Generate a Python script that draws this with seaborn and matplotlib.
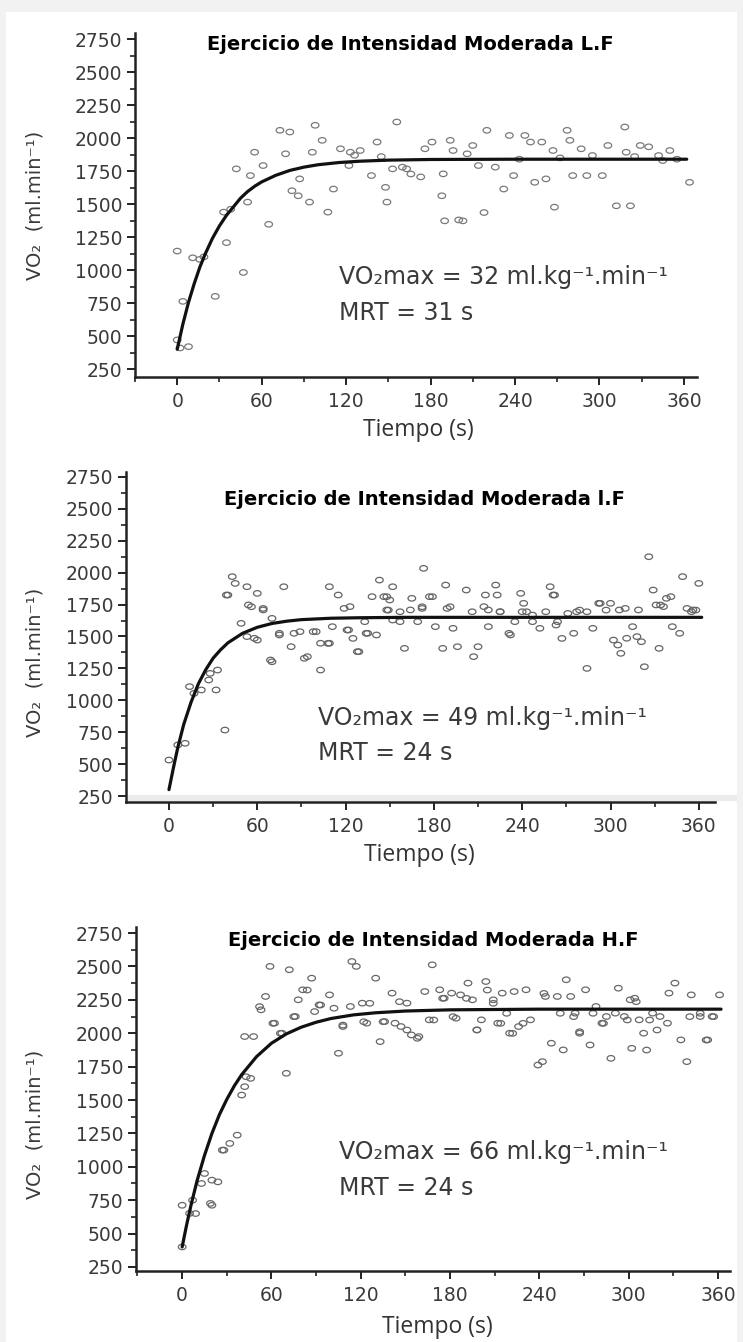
import numpy as np
import pandas as pd
import matplotlib
matplotlib.use("Agg")
import matplotlib.pyplot as plt
import seaborn as sns
from matplotlib.path import Path
from matplotlib.patches import Rectangle
from matplotlib.ticker import MultipleLocator

# ---------------- data ----------------
XTICKS = [0, 60, 120, 180, 240, 300, 360]
YTICKS = [250, 500, 750, 1000, 1250, 1500, 1750, 2000, 2250, 2500, 2750]

TITLES = ["Ejercicio de Intensidad Moderada L.F",
          "Ejercicio de Intensidad Moderada l.F",
          "Ejercicio de Intensidad Moderada H.F"]
ANNOT_VO2 = ["VO\u2082max = 32 ml.kg\u207b\u00b9.min\u207b\u00b9",
             "VO\u2082max = 49 ml.kg\u207b\u00b9.min\u207b\u00b9",
             "VO\u2082max = 66 ml.kg\u207b\u00b9.min\u207b\u00b9"]
ANNOT_MRT = ["MRT = 31 s", "MRT = 24 s", "MRT = 24 s"]
XLABEL = "Tiempo (s)"
YLABEL = "VO\u2082  (ml.min\u207b\u00b9)"

# Panel 1 scatter
t1 = [0, 11, 16, 19, 27, 4, 0, 8, 2, 33, 35, 38, 47, 50, 42, 52, 61, 55, 65, 73,
      80, 77, 81.5, 87, 86, 94, 96, 98, 103, 107, 111, 116, 123, 130, 122, 126, 138,
      142, 148, 149, 156, 153, 145, 160, 163, 166, 173, 176, 181, 189, 188, 190, 194,
      196, 200, 203, 206, 210, 214, 218, 220, 226, 232, 236, 239, 243, 247, 251, 254,
      259, 262, 267, 268, 272, 277, 279, 281, 287, 291, 295, 302, 306, 312, 318, 319,
      322, 325, 329, 335, 342, 345, 350, 355, 364]
v1 = [1144, 1093, 1081, 1100, 801, 763, 471, 420, 410, 1439, 1208, 1461, 982, 1515,
      1767, 1716, 1792, 1893, 1347, 2059, 2046, 1881, 1601, 1691, 1563, 1515, 1893,
      2097, 1983, 1439, 1614, 1919, 1893, 1906, 1792, 1870, 1716, 1970, 1627, 1515,
      2122, 1767, 1860, 1780, 1767, 1728, 1706, 1919, 1970, 1729, 1563, 1373, 1983,
      1906, 1380, 1373, 1881, 1944, 1792, 1436, 2059, 1780, 1614, 2020, 1716, 1840,
      2020, 1970, 1665, 1970, 1691, 1906, 1477, 1850, 2059, 1983, 1716, 1919, 1716,
      1868, 1716, 1944, 1487, 2084, 1893, 1487, 1860, 1944, 1934, 1868, 1830, 1906,
      1840, 1665]
ct1 = [0, 4, 8, 12, 16, 20, 25, 30, 35, 40, 45, 50, 55, 60, 70, 80, 90, 100, 115,
       130, 150, 180, 240, 300, 362]
cv1 = [400, 590, 755, 895, 1020, 1125, 1240, 1335, 1415, 1480, 1545, 1595, 1635,
       1668, 1718, 1755, 1780, 1798, 1815, 1825, 1833, 1838, 1840, 1840, 1840]

# Panel 2 scatter
t2 = [0, 6, 11, 14, 17, 22, 27, 32, 28, 33, 38, 40, 43, 45, 53, 60, 54, 64, 49, 53,
      60, 70, 70, 75, 78, 83, 85, 92, 98, 103, 108, 109, 111, 115, 119, 123, 122, 125,
      128, 133, 135, 138, 143, 148, 149, 152, 157, 160, 165, 169, 173, 172, 177, 181,
      186, 189, 188, 193, 196, 202, 207, 210, 214, 215, 222, 223, 225, 217, 231, 235,
      239, 241, 243, 247, 252, 256, 259, 262, 264, 267, 271, 275, 279, 284, 288, 292,
      297, 302, 305, 307, 310, 315, 318, 321, 323, 326, 329, 333, 331, 336, 341, 342,
      347, 349, 352, 355, 360, 358,
      157, 164, 172, 179, 191, 206, 217, 225, 232, 240, 247, 261, 263, 277, 284, 293,
      300, 306, 311, 319, 334, 338, 356,
      39, 56, 64, 58, 75, 89, 100, 103, 109, 69, 94, 121, 129, 134, 141, 146, 150,
      148, 152]
v2 = [532, 650, 663, 1107, 1054, 1081, 1159, 1081, 1211, 1237, 767, 1825, 1969, 1916,
      1890, 1838, 1747, 1720, 1603, 1499, 1472, 1642, 1302, 1525, 1890, 1420, 1525,
      1329, 1538, 1237, 1446, 1890, 1577, 1825, 1720, 1734, 1551, 1485, 1381, 1616,
      1525, 1812, 1942, 1812, 1707, 1890, 1616, 1407, 1799, 1616, 2034, 1720, 1812,
      1577, 1407, 1720, 1903, 1564, 1420, 1864, 1342, 1420, 1734, 1825, 1903, 1825,
      1694, 1577, 1525, 1616, 1838, 1760, 1694, 1616, 1564, 1694, 1890, 1825, 1616,
      1485, 1681, 1525, 1707, 1250, 1564, 1760, 1707, 1472, 1433, 1368, 1720, 1577,
      1499, 1459, 1263, 2125, 1864, 1407, 1747, 1734, 1812, 1577, 1525, 1969, 1720,
      1694, 1916, 1707,
      1694, 1708, 1733, 1812, 1733, 1694, 1708, 1694, 1512, 1694, 1668, 1825, 1590,
      1694, 1694, 1760, 1760, 1708, 1486, 1708, 1747, 1799, 1708,
      1825, 1733, 1708, 1486, 1512, 1538, 1538, 1447, 1447, 1316, 1342, 1551, 1381,
      1525, 1512, 1812, 1786, 1708, 1629]
ct2 = [0, 3, 6, 10, 15, 20, 25, 30, 35, 40, 50, 60, 70, 80, 90, 110, 130, 160, 200,
       250, 300, 362]
cv2 = [300, 470, 630, 810, 985, 1130, 1240, 1330, 1395, 1450, 1525, 1572, 1602,
       1620, 1632, 1643, 1647, 1650, 1650, 1650, 1650, 1650]

# Panel 3 scatter
t3 = [0, 0, 7, 9, 20, 13, 20, 24, 15, 27, 32, 37, 40, 42, 46, 42, 48, 53, 56, 59,
      62, 67, 70, 72, 76, 78, 81, 87, 89, 92, 99, 102, 105, 108, 114, 113, 117, 121,
      124, 130, 133, 136, 141, 143, 147, 151, 154, 159, 163, 166, 168, 173, 176, 181,
      184, 187, 192, 195, 198, 201, 204, 209, 212, 215, 220, 223, 226, 231, 234, 239,
      242, 244, 248, 252, 256, 258, 261, 264, 267, 271, 274, 278, 282, 285, 288, 291,
      293, 297, 301, 304, 307, 302, 310, 316, 321, 326, 327, 331, 335, 339, 342, 348,
      353, 356, 361,
      146, 151, 158, 169, 175, 182, 191, 198, 205, 209, 214, 218, 222, 229, 243, 254,
      263, 267, 276, 283, 299, 305, 312, 314, 319, 341, 348, 352, 357,
      52, 61, 66, 75, 84, 93, 108, 122, 126, 135, 43, 28, 19, 5]
v3 = [400, 712, 750, 650, 712, 875, 900, 887, 950, 1125, 1175, 1237, 1537, 1600,
      1662, 1975, 1975, 2175, 2275, 2500, 2075, 2000, 1700, 2475, 2125, 2250, 2325,
      2412, 2162, 2212, 2287, 2187, 1850, 2050, 2537, 2200, 2500, 2225, 2075, 2412,
      1937, 2087, 2300, 2075, 2050, 2225, 1987, 1975, 2312, 2100, 2512, 2325, 2262,
      2300, 2112, 2287, 2375, 2250, 2025, 2100, 2387, 2250, 2075, 2300, 2000, 2312,
      2050, 2325, 2100, 1762, 1787, 2275, 1925, 2275, 1875, 2400, 2275, 2150, 2000,
      2325, 1912, 2200, 2075, 2125, 1812, 2150, 2337, 2125, 2250, 2262, 2100, 1887,
      2000, 2150, 2125, 2075, 2300, 2375, 1950, 1787, 2287, 2125, 1950, 2125, 2287,
      2236, 2024, 1962, 2099, 2261, 2124, 2261, 2024, 2323, 2224, 2074, 2149, 1999,
      2074, 2298, 2149, 2124, 2011, 2149, 2074, 2099, 2236, 1874, 2099, 2024, 2124,
      2149, 1949, 2124,
      2199, 2074, 1999, 2124, 2323, 2211, 2061, 2086, 2224, 2086, 1674, 1125, 726, 651]
ct3 = [0, 3, 6, 10, 15, 20, 25, 30, 35, 40, 50, 60, 70, 80, 90, 100, 115, 130, 150,
       180, 240, 300, 362]
cv3 = [400, 565, 715, 895, 1085, 1250, 1390, 1505, 1605, 1690, 1825, 1925, 1995,
       2045, 2082, 2110, 2137, 2153, 2166, 2175, 2180, 2180, 2180]

# ---------------- styling / layout ----------------
W, H = 743, 1342
sns.set_theme(style="white")
plt.rcParams['font.family'] = ['DejaVu Sans']

fig = plt.figure(figsize=(W / 100, H / 100), dpi=100)
fig.patch.set_facecolor('#f2f2f2')
fig.add_artist(Rectangle((6 / W, 0), (737 - 6) / W, 1 - 12 / H,
                         transform=fig.transFigure, facecolor='white',
                         edgecolor='none', zorder=-10))
# faint grey strip above the middle panel's x axis
fig.add_artist(Rectangle((128 / W, 1 - 801 / H), (737 - 128) / W, 6 / H,
                         transform=fig.transFigure, facecolor='#ebebeb',
                         edgecolor='none', zorder=-9))

theta = np.linspace(0, 2 * np.pi, 40)
ell = Path(np.column_stack([np.cos(theta), 0.72 * np.sin(theta)]))


def px_axes(left, top, right, bottom):
    return fig.add_axes([left / W, 1 - bottom / H, (right - left) / W,
                         (bottom - top) / H])


panels = [
    dict(box=(135, 32.5, 697, 377), xlim=(-30, 369.3), ylim=(190, 2800),
         t=t1, v=v1, ct=ct1, cv=cv1, title_xy=(410, 45),
         ann_xy=(339, 277, 313), ylab_xy=(35, 205), xlab_xy=(418, 430),
         col='#7a7a7a'),
    dict(box=(126, 472, 715, 802), xlim=(-29.2, 371), ylim=(203, 2789),
         t=t2, v=v2, ct=ct2, cv=cv2, title_xy=(424, 500),
         ann_xy=(318, 718, 753), ylab_xy=(35, 662), xlab_xy=(419, 855),
         col='#656565'),
    dict(box=(136, 927, 730, 1271), xlim=(-31, 368), ylim=(220, 2795),
         t=t3, v=v3, ct=ct3, cv=cv3, title_xy=(433, 941),
         ann_xy=(339, 1152, 1188), ylab_xy=(35, 1124), xlab_xy=(437, 1327),
         col='#686868'),
]

for i, p in enumerate(panels):
    ax = px_axes(*p['box'])
    ax.set_facecolor('none')
    df = pd.DataFrame({'t': p['t'], 'v': p['v']})
    cf = pd.DataFrame({'t': p['ct'], 'v': p['cv']})
    sns.scatterplot(data=df, x='t', y='v', ax=ax, marker=ell, s=30,
                    facecolor='none', edgecolor=p['col'], linewidth=0.9,
                    zorder=2)
    sns.lineplot(data=cf, x='t', y='v', ax=ax, color='#111111', linewidth=2.3,
                 zorder=3, estimator=None, sort=True)
    ax.set_xlim(*p['xlim'])
    ax.set_ylim(*p['ylim'])
    ax.set_xticks(XTICKS)
    ax.set_yticks(YTICKS)
    ax.set_xticklabels([str(x) for x in XTICKS])
    ax.set_yticklabels([str(y) for y in YTICKS])
    ax.xaxis.set_minor_locator(MultipleLocator(30))
    ax.yaxis.set_minor_locator(MultipleLocator(125))
    ax.set_xlabel('')
    ax.set_ylabel('')
    for s in ['top', 'right']:
        ax.spines[s].set_visible(False)
    for s in ['left', 'bottom']:
        ax.spines[s].set_linewidth(1.8)
        ax.spines[s].set_color('#222222')
    ax.tick_params(axis='both', which='major', direction='out', length=6,
                   width=1.4, color='#222222', labelsize=13.5,
                   labelcolor='#3a3a3a', pad=3, bottom=True, left=True)
    ax.tick_params(axis='both', which='minor', direction='out', length=3.5,
                   width=1.2, color='#222222', bottom=True, left=True)
    ax.tick_params(axis='x', which='major', pad=5)

    tx, ty = p['title_xy']
    fig.text(tx / W, 1 - ty / H, TITLES[i], ha='center', va='center',
             fontsize=14, fontweight='bold', color='black')
    axx, ay1, ay2 = p['ann_xy']
    fig.text(axx / W, 1 - ay1 / H, ANNOT_VO2[i], ha='left', va='center',
             fontsize=17, color='#3a3a3a')
    fig.text(axx / W, 1 - ay2 / H, ANNOT_MRT[i], ha='left', va='center',
             fontsize=17, color='#3a3a3a')
    lx, ly = p['ylab_xy']
    fig.text(lx / W, 1 - ly / H, YLABEL, ha='center', va='center',
             rotation=90, fontsize=14, color='#3a3a3a')
    xx, xy = p['xlab_xy']
    fig.text(xx / W, 1 - xy / H, XLABEL, ha='center', va='center',
             fontsize=16.5, color='#333333', family=['Open Sans', 'DejaVu Sans'])

fig.savefig('out.png', dpi=100, facecolor=fig.get_facecolor())
